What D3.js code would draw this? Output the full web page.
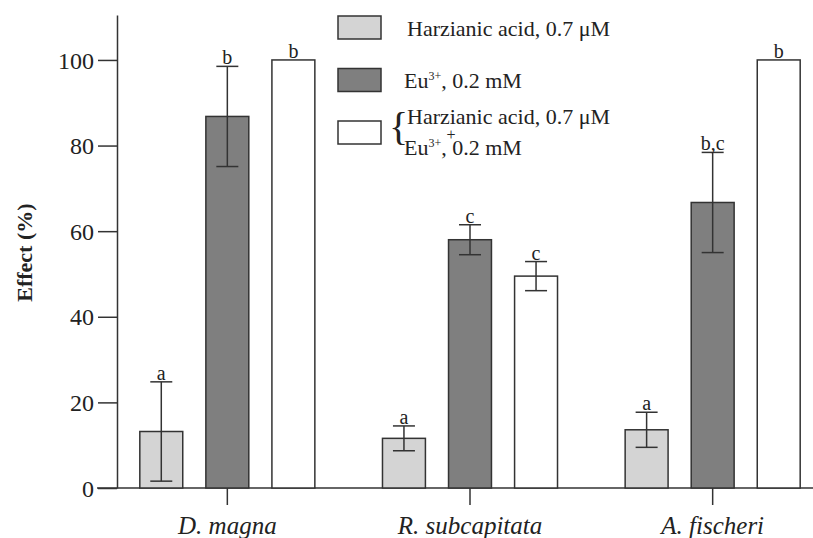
<!DOCTYPE html>
<html>
<head>
<meta charset="utf-8">
<script src="https://cdn.jsdelivr.net/npm/d3@7"></script>
<style>
	body { margin: 0; background: #fff; }
	text { font-family: "Liberation Serif", "Times New Roman", serif; fill: #222; }
</style>
</head>
<body>
<div id="root"></div>
<script>

const species = ["D. magna", "R. subcapitata", "A. fischeri"];
const treatments = ["ha", "eu", "mix"];

const haValues = [13.2, 11.6, 13.6];
const haErrors = [11.6, 2.9, 4.1];
const haLetters = ["a", "a", "a"];

const euValues = [86.8, 58.0, 66.7];
const euErrors = [11.7, 3.5, 11.7];
const euLetters = ["b", "c", "b,c"];

const mixValues = [100, 49.5, 100];
const mixErrors = [0, 3.4, 0];
const mixLetters = ["b", "c", "b"];

const yTicks = [0, 20, 40, 60, 80, 100];

const fills = d3.scaleOrdinal().domain(treatments).range(["#d4d4d4", "#7f7f7f", "#ffffff"]);
const strokeColor = "#333";

const width = 813, height = 538;

const makeChart = () => {
	const svg = d3.select("#root")
		.append("svg")
			.attr("width", width)
			.attr("height", height);

	const y = d3.scaleLinear().domain([0, 110.5]).range([488, 15]);
	const x0 = d3.scaleBand().domain(species).range([106, 834]);
	const x1 = d3.scaleBand().domain(treatments).range([0, x0.bandwidth()])
		.paddingInner(0.35).paddingOuter(0.512);

	const rows = species.map((s, i) => ({
		species: s,
		bars: [
			{ key: "ha", value: haValues[i], err: haErrors[i], letter: haLetters[i] },
			{ key: "eu", value: euValues[i], err: euErrors[i], letter: euLetters[i] },
			{ key: "mix", value: mixValues[i], err: mixErrors[i], letter: mixLetters[i] }
		]
	}));

	// axes
	const yAxis = svg.append("g")
		.attr("transform", `translate(117,0)`)
		.call(d3.axisLeft(y).tickValues(yTicks).tickSize(19).tickSizeOuter(0).tickPadding(4));
	yAxis.selectAll("text").style("font-size", "24px").attr("dy", "0.34em");
	yAxis.selectAll("line, path").attr("stroke", strokeColor).attr("stroke-width", 1.5);

	svg.append("line")
		.attr("x1", 97).attr("x2", width)
		.attr("y1", y(0)).attr("y2", y(0))
		.attr("stroke", strokeColor).attr("stroke-width", 1.5);

	const xAxis = svg.append("g")
		.attr("transform", `translate(0,${ y(0) })`)
		.call(d3.axisBottom(x0).tickSize(17).tickPadding(11));
	xAxis.select(".domain").remove();
	xAxis.selectAll("line").attr("stroke", strokeColor).attr("stroke-width", 1.5);
	xAxis.selectAll("text").style("font-size", "25px").style("font-style", "italic");

	svg.append("text")
		.attr("transform", `translate(32,${ y(55) }) rotate(-90)`)
		.attr("text-anchor", "middle")
		.style("font-size", "22px")
		.style("font-weight", "bold")
		.text("Effect (%)");

	// bars
	const groups = svg.selectAll(".group")
		.data(rows).enter()
		.append("g")
			.attr("class", "group")
			.attr("transform", d => `translate(${ x0(d.species) },0)`);

	const bars = groups.selectAll(".bar")
		.data(d => d.bars).enter()
		.append("g")
			.attr("class", "bar");

	bars.append("rect")
		.attr("x", d => x1(d.key))
		.attr("y", d => y(d.value))
		.attr("width", x1.bandwidth())
		.attr("height", d => y(0) - y(d.value))
		.attr("fill", d => fills(d.key))
		.attr("stroke", strokeColor)
		.attr("stroke-width", 1.5);

	const cap = 11;
	const errBars = bars.filter(d => d.err > 0);
	const cx = d => x1(d.key) + x1.bandwidth() / 2;

	errBars.append("line")
		.attr("x1", cx).attr("x2", cx)
		.attr("y1", d => y(d.value + d.err))
		.attr("y2", d => y(d.value - d.err))
		.attr("stroke", strokeColor).attr("stroke-width", 1.5);
	errBars.append("line")
		.attr("x1", d => cx(d) - cap).attr("x2", d => cx(d) + cap)
		.attr("y1", d => y(d.value + d.err)).attr("y2", d => y(d.value + d.err))
		.attr("stroke", strokeColor).attr("stroke-width", 1.5);
	errBars.append("line")
		.attr("x1", d => cx(d) - cap).attr("x2", d => cx(d) + cap)
		.attr("y1", d => y(d.value - d.err)).attr("y2", d => y(d.value - d.err))
		.attr("stroke", strokeColor).attr("stroke-width", 1.5);

	bars.append("text")
		.attr("x", cx)
		.attr("y", d => y(d.value + d.err) - 2)
		.attr("text-anchor", "middle")
		.style("font-size", "20px")
		.text(d => d.letter);

	renderLegend(svg);
};

const renderLegend = (svg) => {
	const legend = svg.append("g").attr("transform", "translate(338,16)");
	const step = 52.5;

	legend.selectAll("rect")
		.data(treatments).enter()
		.append("rect")
			.attr("x", 0)
			.attr("y", (d, i) => i * step)
			.attr("width", 43)
			.attr("height", 23)
			.attr("fill", d => fills(d))
			.attr("stroke", strokeColor)
			.attr("stroke-width", 1.5);

	const fs = "22px";

	legend.append("text")
		.attr("x", 69).attr("y", 20)
		.style("font-size", fs)
		.text("Harzianic acid, 0.7 μM");

	const eu = (sel, x, yy) => {
		const t = sel.append("text").attr("x", x).attr("y", yy).style("font-size", fs);
		t.append("tspan").text("Eu");
		t.append("tspan").attr("dy", -8).style("font-size", "12px").text("3+");
		t.append("tspan").attr("dy", 8).text(", 0.2 mM");
	};

	eu(legend, 66, 19 + step);

	legend.append("text")
		.attr("x", 51).attr("y", 2 * step + 19)
		.style("font-size", "40px")
		.text("{");

	legend.append("text")
		.attr("x", 69).attr("y", 2 * step + 3)
		.style("font-size", fs)
		.text("Harzianic acid, 0.7 μM");

	legend.append("text")
		.attr("x", 113).attr("y", 2 * step + 19)
		.attr("text-anchor", "middle")
		.style("font-size", "16px")
		.text("+");

	eu(legend, 66, 2 * step + 34);
};

makeChart();
</script>
</body>
</html>
